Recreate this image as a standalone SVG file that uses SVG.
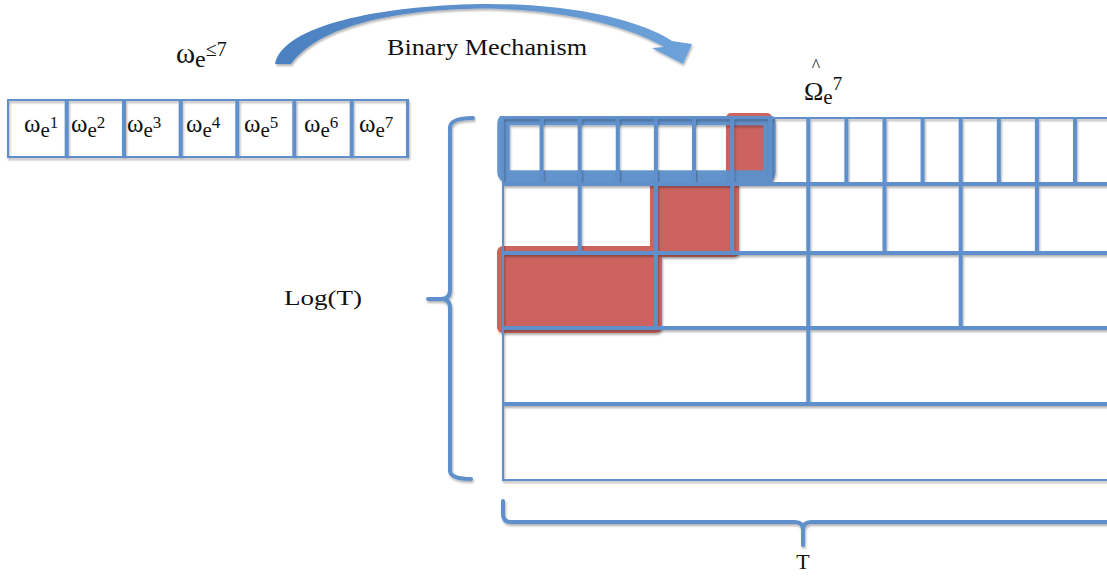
<svg xmlns="http://www.w3.org/2000/svg" width="1107" height="577" viewBox="0 0 1107 577">
<style>
  .t { font-family: "Liberation Serif", "DejaVu Serif", serif; fill: #111; }
  .ln { stroke: #5E90CB; fill: none; stroke-linecap: butt; }
  .thin { stroke-width: 2; }
  .thick { stroke-width: 4; }
  .red { fill: #CC645E; }
  .brace { stroke: #5E90CB; stroke-width: 4; fill: none; stroke-linecap: round; stroke-linejoin: round; }
</style>
<defs>
  <filter id="sh" x="-5%" y="-5%" width="110%" height="115%">
    <feDropShadow dx="1" dy="2" stdDeviation="1.2" flood-color="#000" flood-opacity="0.3"/>
  </filter>
  <linearGradient id="arrowGrad" x1="0" y1="0" x2="1" y2="0">
    <stop offset="0" stop-color="#4C80C0"/>
    <stop offset="0.5" stop-color="#5E92CE"/>
    <stop offset="1" stop-color="#6EA2DA"/>
  </linearGradient>
</defs>
<rect width="1107" height="577" fill="#fff"/>

<!-- input array -->
<g id="input-array" filter="url(#sh)">
  <rect x="8" y="100" width="400" height="57" fill="#fff" class="ln thin"/>
  <line class="ln thick" x1="66.7" y1="100" x2="66.7" y2="157"/>
  <line class="ln thick" x1="124" y1="100" x2="124" y2="157"/>
  <line class="ln thick" x1="180.7" y1="100" x2="180.7" y2="157"/>
  <line class="ln thick" x1="237.3" y1="100" x2="237.3" y2="157"/>
  <line class="ln thick" x1="294.3" y1="100" x2="294.3" y2="157"/>
  <line class="ln thick" x1="351.7" y1="100" x2="351.7" y2="157"/>
  <line class="ln" stroke-width="3" x1="407.5" y1="100" x2="407.5" y2="157"/>
</g>
<g id="input-labels">
  <text class="t" x="24" y="132" font-size="25">ω<tspan font-size="21" dy="5">e</tspan><tspan font-size="17" dy="-9">1</tspan></text>
  <text class="t" x="71" y="132" font-size="25">ω<tspan font-size="21" dy="5">e</tspan><tspan font-size="17" dy="-9">2</tspan></text>
  <text class="t" x="127" y="132" font-size="25">ω<tspan font-size="21" dy="5">e</tspan><tspan font-size="17" dy="-9">3</tspan></text>
  <text class="t" x="186" y="132" font-size="25">ω<tspan font-size="21" dy="5">e</tspan><tspan font-size="17" dy="-9">4</tspan></text>
  <text class="t" x="244" y="132" font-size="25">ω<tspan font-size="21" dy="5">e</tspan><tspan font-size="17" dy="-9">5</tspan></text>
  <text class="t" x="304" y="132" font-size="25">ω<tspan font-size="21" dy="5">e</tspan><tspan font-size="17" dy="-9">6</tspan></text>
  <text class="t" x="359" y="132" font-size="25">ω<tspan font-size="21" dy="5">e</tspan><tspan font-size="17" dy="-9">7</tspan></text>
</g>

<g id="input-title">
  <text class="t" x="176" y="63" font-size="29">ω<tspan font-size="24" dy="4">e</tspan><tspan font-size="20" dy="-11">≤7</tspan></text>
</g>

<!-- connector -->
<g id="connectors">
  <path filter="url(#sh)" fill="url(#arrowGrad)" d="M 275 64 C 283 25, 380 6, 480 4 C 570 3, 640 20, 672 41 L 692 44 L 683 64 L 652 48 L 664 47 C 630 27, 565 9, 480 8.5 C 395 10, 320 25, 291 64 Z"/>
</g>
<g id="label-binary">
  <text class="t" x="387" y="55" font-size="24" textLength="200" lengthAdjust="spacingAndGlyphs">Binary Mechanism</text>
</g>

<!-- output label -->
<g id="output-title">
  <text class="t" x="816" y="72" font-size="18" text-anchor="middle">^</text>
  <text class="t" x="804" y="100" font-size="26">Ω<tspan font-size="21" dy="4">e</tspan><tspan font-size="19" dy="-14">7</tspan></text>
</g>

<!-- highlights -->
<g id="highlights" filter="url(#sh)">
  <rect class="red" x="726" y="113" width="46" height="70" rx="5"/>
  <rect class="red" x="650" y="182" width="89" height="75" rx="5"/>
  <rect class="red" x="497" y="246" width="165" height="87" rx="6"/>
</g>
<g id="row-highlight" filter="url(#sh)">
  <rect x="503.5" y="119" width="266" height="57.5" rx="4" fill="none" stroke="#5E90CB" stroke-width="12.5" opacity="0.95"/>
</g>

<!-- tree grid -->
<g id="grid" filter="url(#sh)">
  <line class="ln thin" x1="503" y1="118" x2="1110" y2="118"/>
  <line class="ln thin" x1="503" y1="117" x2="503" y2="481"/>
  <line class="ln thin" x1="503" y1="480" x2="1110" y2="480"/>
  <line class="ln thick" x1="503" y1="184" x2="1110" y2="184"/>
  <line class="ln thick" x1="503" y1="253" x2="1110" y2="253"/>
  <line class="ln thick" x1="503" y1="328" x2="1110" y2="328"/>
  <line class="ln thick" x1="503" y1="404" x2="1110" y2="404"/>
  <g id="row1">
    <line class="ln thick" x1="541.6" y1="118" x2="541.6" y2="184"/>
    <line class="ln thick" x1="579.7" y1="118" x2="579.7" y2="184"/>
    <line class="ln thick" x1="617.8" y1="118" x2="617.8" y2="184"/>
    <line class="ln thick" x1="655.9" y1="118" x2="655.9" y2="184"/>
    <line class="ln thick" x1="694" y1="118" x2="694" y2="184"/>
    <line class="ln thick" x1="732.1" y1="118" x2="732.1" y2="184"/>
    <line class="ln thick" x1="770.2" y1="118" x2="770.2" y2="184"/>
    <line class="ln thick" x1="808.3" y1="118" x2="808.3" y2="184"/>
    <line class="ln thick" x1="846.4" y1="118" x2="846.4" y2="184"/>
    <line class="ln thick" x1="884.5" y1="118" x2="884.5" y2="184"/>
    <line class="ln thick" x1="922.6" y1="118" x2="922.6" y2="184"/>
    <line class="ln thick" x1="960.7" y1="118" x2="960.7" y2="184"/>
    <line class="ln thick" x1="998.8" y1="118" x2="998.8" y2="184"/>
    <line class="ln thick" x1="1036.9" y1="118" x2="1036.9" y2="184"/>
    <line class="ln thick" x1="1075" y1="118" x2="1075" y2="184"/>
  </g>
  <g id="row2">
    <line class="ln thick" x1="579.7" y1="184" x2="579.7" y2="253"/>
    <line class="ln thick" x1="655.9" y1="184" x2="655.9" y2="253"/>
    <line class="ln thick" x1="732.1" y1="184" x2="732.1" y2="253"/>
    <line class="ln thick" x1="808.3" y1="184" x2="808.3" y2="253"/>
    <line class="ln thick" x1="884.5" y1="184" x2="884.5" y2="253"/>
    <line class="ln thick" x1="960.7" y1="184" x2="960.7" y2="253"/>
    <line class="ln thick" x1="1036.9" y1="184" x2="1036.9" y2="253"/>
  </g>
  <g id="row3">
    <line class="ln thick" x1="655.9" y1="253" x2="655.9" y2="328"/>
    <line class="ln thick" x1="808.3" y1="253" x2="808.3" y2="328"/>
    <line class="ln thick" x1="960.7" y1="253" x2="960.7" y2="328"/>
  </g>
  <g id="row4">
    <line class="ln thick" x1="808.3" y1="328" x2="808.3" y2="404"/>
  </g>
</g>

<!-- braces -->
<g id="brace-left" filter="url(#sh)">
  <path class="brace" d="M 473 118 Q 451 118 450 127 L 450 290 Q 450 299 441 299 L 428 299 M 441 299 Q 450 299 450 308 L 450 471 Q 451 479 471 479"/>
</g>
<g id="brace-bottom" filter="url(#sh)">
  <path class="brace" d="M 503 501 L 503 514 Q 503 522 511 522 L 795 522 Q 803 522 803 530 L 803 545 M 803 530 Q 803 522 811 522 L 1112 522"/>
</g>

<g id="label-log">
  <text class="t" x="284" y="305" font-size="22" textLength="78" lengthAdjust="spacingAndGlyphs">Log(T)</text>
</g>
<g id="label-T">
  <text class="t" x="803" y="569" font-size="22" text-anchor="middle">T</text>
</g>
</svg>
